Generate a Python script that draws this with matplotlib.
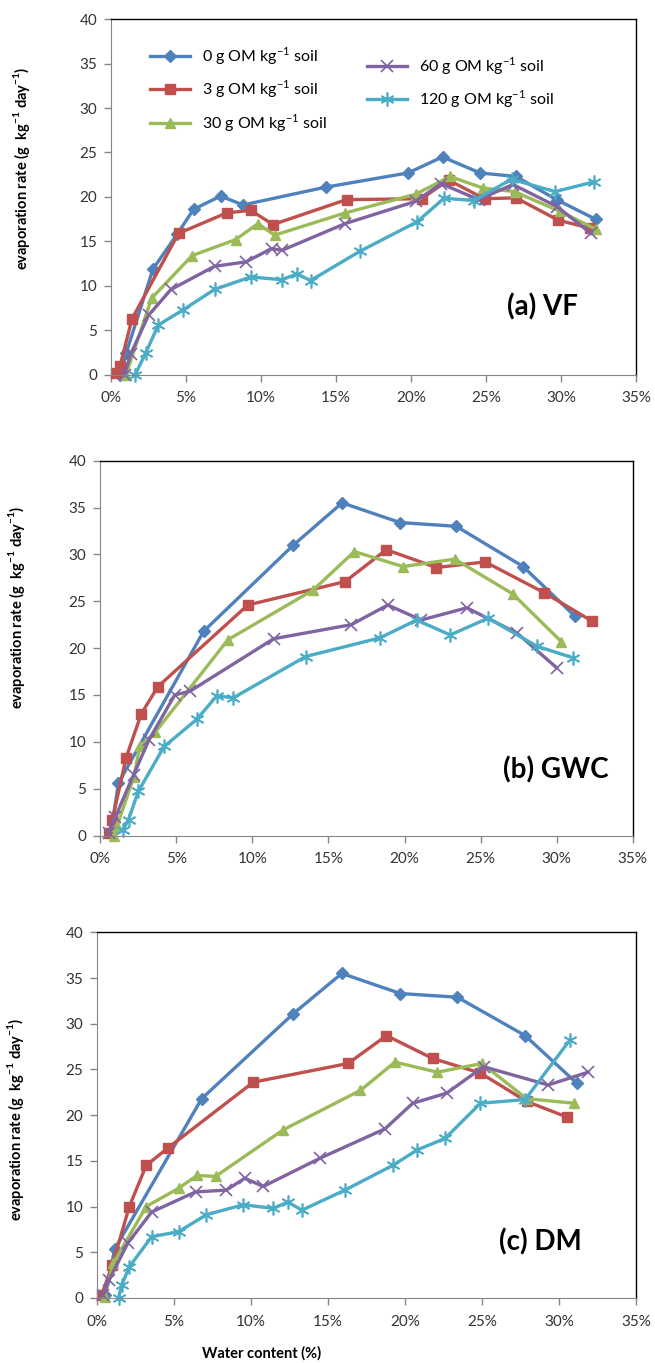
import matplotlib
matplotlib.use("Agg")
import matplotlib.pyplot as plt
from matplotlib.ticker import PercentFormatter, MultipleLocator

plt.rcParams["font.family"] = ["Lato", "DejaVu Sans"]
plt.rcParams["mathtext.fontset"] = "custom"
plt.rcParams["mathtext.rm"] = "Lato"
plt.rcParams["mathtext.bf"] = "Lato:bold"

# ---- data (water content in %, evaporation rate in g kg-1 day-1) ----
labels = ["0 g OM kg$^{-1}$ soil", "3 g OM kg$^{-1}$ soil", "30 g OM kg$^{-1}$ soil",
          "60 g OM kg$^{-1}$ soil", "120 g OM kg$^{-1}$ soil"]

# (a) VF
vf_om0_x = [0.6, 1.0, 2.8, 4.4, 5.5, 7.3, 8.8, 14.3, 19.8, 22.1, 24.6, 27.0, 29.7, 32.3]
vf_om0_y = [0.0, 2.4, 11.9, 15.8, 18.6, 20.1, 19.1, 21.1, 22.7, 24.5, 22.7, 22.3, 19.7, 17.5]
vf_om3_x = [0.3, 0.6, 1.4, 4.5, 7.7, 9.3, 10.8, 15.7, 20.7, 22.5, 24.9, 27.0, 29.8, 31.9]
vf_om3_y = [0.2, 1.0, 6.3, 15.9, 18.2, 18.5, 16.9, 19.7, 19.8, 21.9, 19.8, 19.9, 17.4, 16.5]
vf_om30_x = [1.0, 2.7, 5.4, 8.3, 9.8, 10.9, 15.6, 20.3, 22.6, 24.8, 26.9, 29.9, 32.3]
vf_om30_y = [0.0, 8.6, 13.4, 15.2, 17.0, 15.7, 18.2, 20.3, 22.3, 21.0, 20.6, 18.4, 16.4]
vf_om60_x = [0.9, 1.3, 2.5, 4.0, 6.9, 9.0, 10.7, 11.4, 15.6, 20.3, 22.0, 24.5, 26.8, 29.75, 32.0]
vf_om60_y = [0.0, 2.3, 6.7, 9.6, 12.2, 12.7, 14.2, 14.0, 17.0, 19.5, 21.5, 19.7, 21.4, 18.9, 15.9]
vf_om120_x = [1.6, 2.3, 3.15, 4.8, 6.9, 9.3, 11.4, 12.4, 13.3, 16.6, 20.4, 22.2, 24.2, 26.7, 29.6, 32.2]
vf_om120_y = [0.0, 2.4, 5.6, 7.3, 9.6, 11.0, 10.7, 11.35, 10.6, 13.9, 17.2, 19.85, 19.6, 22.0, 20.6, 21.7]

# (b) GWC
gwc_om0_x = [0.7, 1.2, 6.8, 12.7, 15.9, 19.7, 23.4, 27.8, 31.2]
gwc_om0_y = [0.3, 5.6, 21.8, 31.0, 35.5, 33.4, 33.0, 28.7, 23.4]
gwc_om3_x = [0.6, 0.8, 1.7, 2.7, 3.8, 9.7, 16.1, 18.8, 22.1, 25.3, 29.2, 32.3]
gwc_om3_y = [0.3, 1.7, 8.3, 13.0, 15.9, 24.6, 27.1, 30.5, 28.6, 29.2, 25.9, 22.9]
gwc_om30_x = [0.9, 1.1, 2.2, 2.6, 3.6, 8.4, 14.0, 16.7, 19.9, 23.3, 27.1, 30.3]
gwc_om30_y = [0.0, 1.0, 6.2, 9.5, 11.0, 20.9, 26.2, 30.3, 28.7, 29.5, 25.8, 20.7]
gwc_om60_x = [0.55, 1.0, 2.2, 3.2, 4.9, 5.9, 11.4, 16.5, 18.9, 21.1, 24.1, 27.4, 30.0]
gwc_om60_y = [0.3, 2.0, 6.5, 10.2, 15.0, 15.4, 21.0, 22.5, 24.6, 23.0, 24.3, 21.6, 17.9]
gwc_om120_x = [1.5, 1.86, 2.5, 4.2, 6.35, 7.66, 8.75, 13.5, 18.4, 20.8, 23.0, 25.5, 28.7, 31.1]
gwc_om120_y = [0.6, 1.7, 4.7, 9.5, 12.4, 14.9, 14.7, 19.1, 21.1, 23.0, 21.4, 23.2, 20.2, 18.95]

# (c) DM
dm_om0_x = [0.5, 1.17, 6.8, 12.75, 15.9, 19.7, 23.4, 27.8, 31.15]
dm_om0_y = [0.3, 5.4, 21.8, 31.1, 35.5, 33.3, 32.9, 28.7, 23.5]
dm_om3_x = [0.3, 1.0, 2.1, 3.2, 4.6, 10.15, 16.3, 18.8, 21.8, 24.9, 27.9, 30.5]
dm_om3_y = [0.3, 3.6, 10.0, 14.5, 16.4, 23.6, 25.65, 28.7, 26.2, 24.6, 21.5, 19.8]
dm_om30_x = [0.5, 1.06, 3.2, 5.3, 6.5, 7.7, 12.1, 17.1, 19.35, 22.1, 25.0, 27.9, 31.0]
dm_om30_y = [0.1, 3.8, 10.0, 12.0, 13.4, 13.3, 18.4, 22.7, 25.8, 24.7, 25.65, 21.8, 21.3]
dm_om60_x = [0.4, 0.8, 2.0, 3.55, 6.4, 8.4, 9.6, 10.8, 14.5, 18.7, 20.5, 22.7, 25.1, 29.3, 31.9]
dm_om60_y = [0.3, 2.0, 6.0, 9.4, 11.6, 11.8, 13.1, 12.2, 15.3, 18.5, 21.3, 22.4, 25.3, 23.3, 24.7]
dm_om120_x = [1.4, 1.6, 2.1, 3.55, 5.3, 7.1, 9.5, 11.45, 12.4, 13.3, 16.1, 19.2, 20.8, 22.6, 24.9, 27.8, 30.7]
dm_om120_y = [0.0, 1.4, 3.4, 6.7, 7.25, 9.1, 10.2, 9.8, 10.5, 9.6, 11.8, 14.5, 16.2, 17.45, 21.3, 21.7, 28.2]

colors = ["#4F81BD", "#C0504D", "#9BBB59", "#8064A2", "#4BACC6"]
markers = ["D", "s", "^", "x", (6, 2, 0)]
msizes = [6, 7, 7, 9, 10]

panels = [
    ("(a) VF", [(vf_om0_x, vf_om0_y), (vf_om3_x, vf_om3_y), (vf_om30_x, vf_om30_y),
                (vf_om60_x, vf_om60_y), (vf_om120_x, vf_om120_y)]),
    ("(b) GWC", [(gwc_om0_x, gwc_om0_y), (gwc_om3_x, gwc_om3_y), (gwc_om30_x, gwc_om30_y),
                 (gwc_om60_x, gwc_om60_y), (gwc_om120_x, gwc_om120_y)]),
    ("(c) DM", [(dm_om0_x, dm_om0_y), (dm_om3_x, dm_om3_y), (dm_om30_x, dm_om30_y),
                (dm_om60_x, dm_om60_y), (dm_om120_x, dm_om120_y)]),
]

# axes rectangles [left, bottom, width, height] in figure fractions
rects = [
    [0.1695, 0.725, 0.8015, 0.261],
    [0.153, 0.387, 0.813, 0.275],
    [0.148, 0.0477, 0.823, 0.2683],
]
tag_pos = [(0.89, 0.19), (0.955, 0.176), (0.90, 0.153)]
ylabel_pos = [(-0.15, 0.58), (-0.137, 0.61), (-0.131, 0.49)]

fig = plt.figure(figsize=(6.55, 13.63), dpi=100)
ylab = r"evaporation rate (g  kg$^{\mathbf{-1}}$ day$^{\mathbf{-1}}$)"

for i, (tag, series) in enumerate(panels):
    ax = fig.add_axes(rects[i])
    handles = []
    for j, (xs, ys) in enumerate(series):
        mec_w = 1.2 if j >= 3 else 1.0
        h, = ax.plot(xs, ys, color=colors[j], lw=2.4, marker=markers[j],
                     markersize=msizes[j], markeredgewidth=mec_w,
                     markerfacecolor=colors[j], markeredgecolor=colors[j],
                     clip_on=False, label=labels[j])
        handles.append(h)

    ax.set_xlim(0, 35)
    ax.set_ylim(0, 40)
    ax.xaxis.set_major_locator(MultipleLocator(5))
    ax.yaxis.set_major_locator(MultipleLocator(5))
    ax.xaxis.set_major_formatter(PercentFormatter(decimals=0))
    ax.tick_params(axis="both", direction="out", length=5, width=1,
                   color="#868686", labelsize=11, labelcolor="#333333")
    ax.tick_params(axis="x", pad=7)
    ax.tick_params(axis="y", pad=5)
    for side in ["left", "bottom"]:
        ax.spines[side].set_color("#868686")
    for side in ["top", "right"]:
        ax.spines[side].set_color("black")
        ax.spines[side].set_linewidth(1.0)

    ax.set_ylabel(ylab, fontsize=10.5, fontweight="bold")
    ax.yaxis.set_label_coords(*ylabel_pos[i])
    ax.text(tag_pos[i][0], tag_pos[i][1], tag, transform=ax.transAxes,
            ha="right", va="center", fontsize=20, fontweight="bold", color="black")

    if i == 0:
        leg1 = ax.legend(handles=handles[:3], loc="upper left",
                         bbox_to_anchor=(0.075, 0.927), frameon=False,
                         fontsize=11.5, handlelength=2.5, handletextpad=0.75,
                         labelspacing=0.75, borderaxespad=0, borderpad=0)
        ax.add_artist(leg1)
        ax.legend(handles=handles[3:], loc="upper left",
                  bbox_to_anchor=(0.488, 0.899), frameon=False,
                  fontsize=11.5, handlelength=2.5, handletextpad=0.75,
                  labelspacing=0.75, borderaxespad=0, borderpad=0)

fig.text(262 / 655, 1 - 1353 / 1363, "Water content (%)", ha="center", va="center",
         fontsize=10.5, fontweight="bold")

fig.savefig("out.png", dpi=100)
